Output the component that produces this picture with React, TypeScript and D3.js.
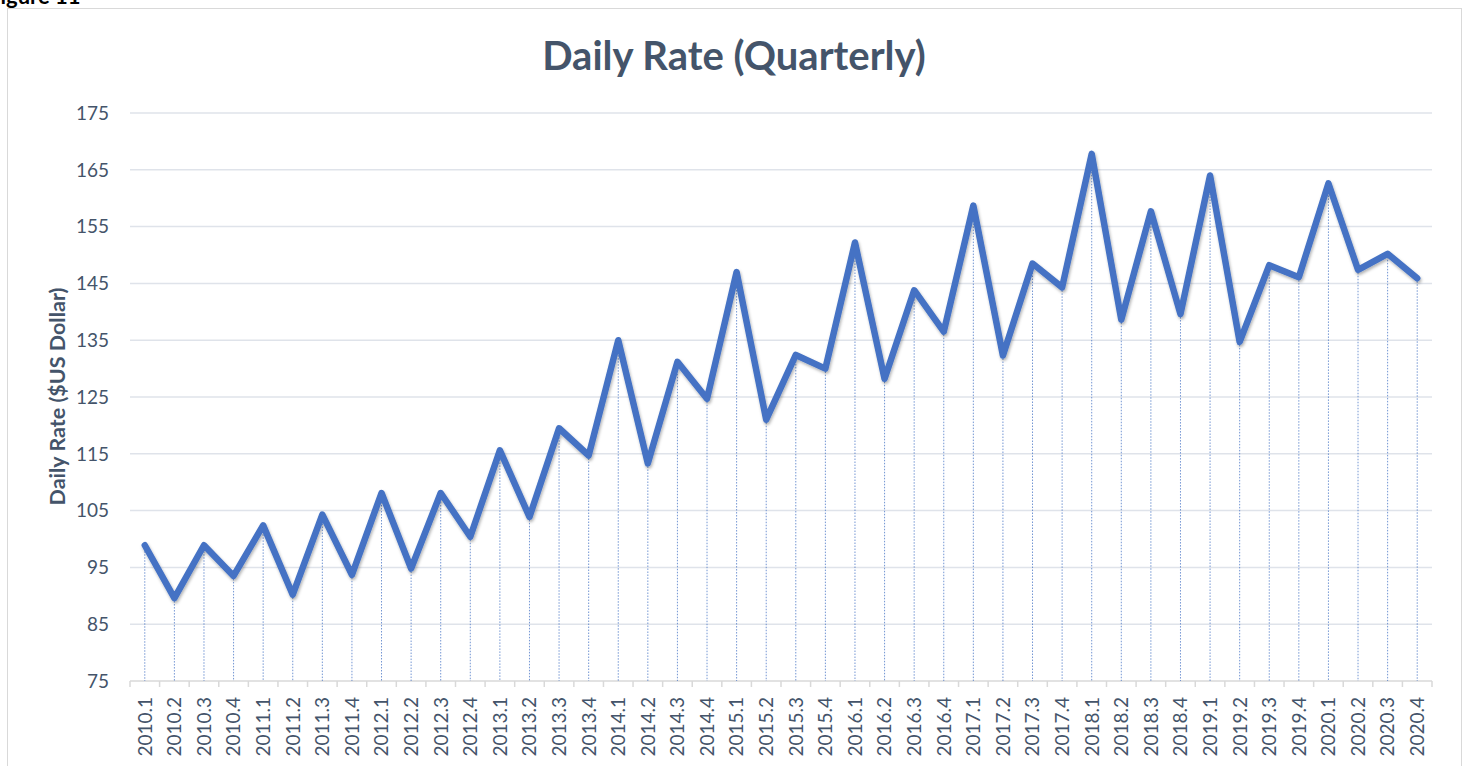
import React, { useEffect, useRef } from 'react';
import * as d3 from 'd3';

const years = d3.range(2010, 2021);
const quarters = [1, 2, 3, 4];
const periods = years.flatMap(y => quarters.map(q => `${y}.${q}`));

const rates = [
  98.9, 89.6, 98.9, 93.5,
  102.4, 90.2, 104.3, 93.7,
  108.1, 94.8, 108.1, 100.4,
  115.6, 103.9, 119.5, 114.7,
  135.0, 113.3, 131.2, 124.7,
  147.0, 121.0, 132.4, 130.0,
  152.2, 128.2, 143.8, 136.5,
  158.7, 132.3, 148.5, 144.3,
  167.8, 138.6, 157.7, 139.6,
  164.0, 134.7, 148.2, 146.1,
  162.6, 147.4, 150.2, 145.9,
];

const yTicks = d3.range(75, 176, 10);

const W = 1469;
const H = 766;
const FONT = 'Lato, sans-serif';
const TEXT = '#44546a';
const BLUE = '#4472c4';

export default function App() {
  const svgRef = useRef<SVGSVGElement>(null);

  useEffect(() => {
    if (!svgRef.current) return;
    const svg = d3.select(svgRef.current);
    svg.selectAll('*').remove();

    const margin = { top: 113, right: 37, bottom: 85, left: 130 };
    const plotW = W - margin.left - margin.right;
    const plotH = 681 - margin.top;

    const defs = svg.append('defs');
    const filter = defs.append('filter')
      .attr('id', 'line-shadow')
      .attr('x', '-5%').attr('y', '-5%')
      .attr('width', '110%').attr('height', '110%');
    filter.append('feDropShadow')
      .attr('dx', 1).attr('dy', 2)
      .attr('stdDeviation', 1.5)
      .attr('flood-color', '#000')
      .attr('flood-opacity', 0.3);

    // page caption (cut off at the top, as in the source) and chart frame
    svg.append('text')
      .attr('x', -12).attr('y', 4)
      .attr('font-family', FONT)
      .attr('font-weight', 700)
      .attr('font-size', 22)
      .attr('fill', '#000')
      .text('Figure 11');

    svg.append('rect')
      .attr('x', 7.5).attr('y', 8.5)
      .attr('width', 1454).attr('height', 800)
      .attr('fill', '#fff')
      .attr('stroke', '#d9d9d9');

    svg.append('text')
      .attr('x', 734).attr('y', 70)
      .attr('text-anchor', 'middle')
      .attr('font-family', FONT)
      .attr('font-weight', 700)
      .attr('font-size', 40)
      .attr('fill', TEXT)
      .text('Daily Rate (Quarterly)');

    const g = svg.append('g').attr('transform', `translate(${margin.left},${margin.top})`);

    const x = d3.scaleBand().domain(periods).range([0, plotW]);
    const y = d3.scaleLinear().domain([75, 175]).range([plotH, 0]);
    const cx = (p: string) => (x(p) || 0) + x.bandwidth() / 2;

    // gridlines
    g.append('g')
      .selectAll('line')
      .data(yTicks.filter(t => t > 75))
      .enter().append('line')
      .attr('x1', 0).attr('x2', plotW)
      .attr('y1', d => y(d)).attr('y2', d => y(d))
      .attr('stroke', '#dfe3ea')
      .attr('stroke-width', 1.5);

    // y labels
    g.append('g')
      .selectAll('text')
      .data(yTicks)
      .enter().append('text')
      .attr('x', -21)
      .attr('y', d => y(d))
      .attr('dy', '0.36em')
      .attr('text-anchor', 'end')
      .attr('font-family', FONT)
      .attr('font-size', 19)
      .attr('fill', TEXT)
      .text(d => d);

    // x axis
    g.append('line')
      .attr('x1', 0).attr('x2', plotW)
      .attr('y1', plotH).attr('y2', plotH)
      .attr('stroke', '#d9d9d9')
      .attr('stroke-width', 1.5);

    const bounds = periods.map(p => x(p) || 0).concat([plotW]);
    g.append('g')
      .selectAll('line')
      .data(bounds)
      .enter().append('line')
      .attr('x1', d => d).attr('x2', d => d)
      .attr('y1', plotH).attr('y2', plotH + 6)
      .attr('stroke', '#d9d9d9')
      .attr('stroke-width', 1.5);

    g.append('g')
      .selectAll('text')
      .data(periods)
      .enter().append('text')
      .attr('transform', d => `translate(${cx(d)},${plotH + 16}) rotate(-90)`)
      .attr('dy', '0.36em')
      .attr('text-anchor', 'end')
      .attr('font-family', FONT)
      .attr('font-size', 19)
      .attr('fill', TEXT)
      .text(d => d);

    // drop lines
    g.append('g')
      .selectAll('line')
      .data(periods)
      .enter().append('line')
      .attr('x1', d => cx(d)).attr('x2', d => cx(d))
      .attr('y1', (d, i) => y(rates[i])).attr('y2', plotH)
      .attr('stroke', BLUE)
      .attr('stroke-width', 1)
      .attr('stroke-dasharray', '1.5 1.5')
      .attr('opacity', 0.75);

    const line = d3.line<number>()
      .x((d, i) => cx(periods[i]))
      .y(d => y(d));

    g.append('path')
      .datum(rates)
      .attr('d', line)
      .attr('fill', 'none')
      .attr('stroke', BLUE)
      .attr('stroke-width', 6.5)
      .attr('stroke-linejoin', 'round')
      .attr('stroke-linecap', 'round')
      .attr('filter', 'url(#line-shadow)');

    // y axis title
    svg.append('text')
      .attr('transform', 'translate(57,396.5) rotate(-90)')
      .attr('dy', '0.35em')
      .attr('text-anchor', 'middle')
      .attr('font-family', FONT)
      .attr('font-weight', 700)
      .attr('font-size', 21.5)
      .attr('fill', TEXT)
      .text('Daily Rate ($US Dollar)');
  }, []);

  return (
    <svg
      ref={svgRef}
      width={W}
      height={H}
      style={{ position: 'absolute', left: 0, top: 0, background: '#fff' }}
    />
  );
}
